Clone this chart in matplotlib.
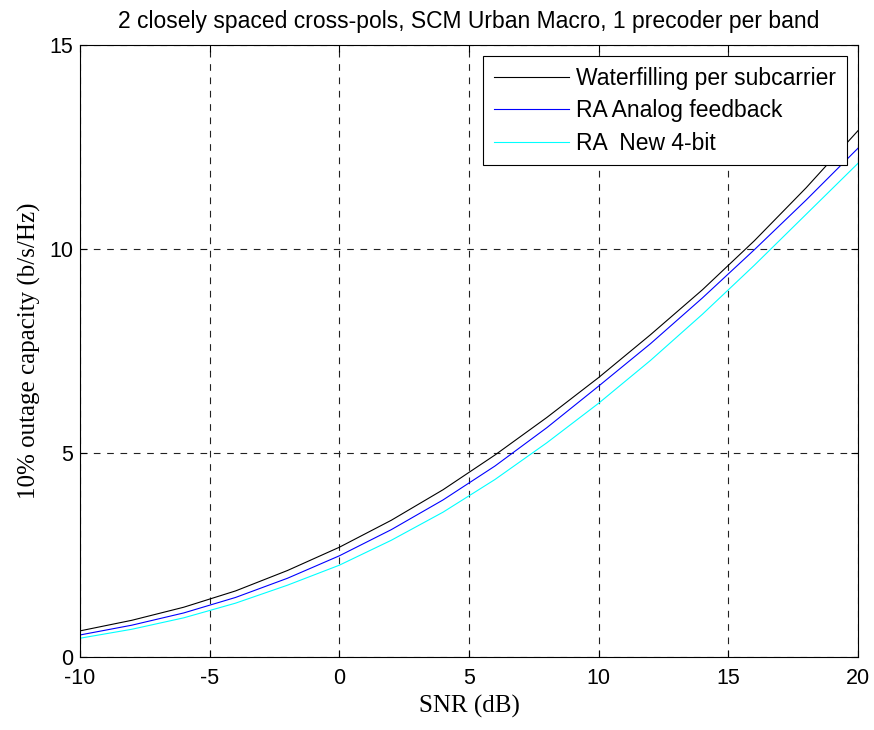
import matplotlib
matplotlib.use("Agg")
import matplotlib.pyplot as plt

snr = [-10, -8, -6, -4, -2, 0, 2, 4, 6, 8, 10, 12, 14, 16, 18, 20]
waterfilling = [0.64, 0.90, 1.22, 1.62, 2.12, 2.69, 3.35, 4.10, 4.95, 5.87, 6.85, 7.90, 9.00, 10.20, 11.50, 12.90]
analog = [0.54, 0.78, 1.08, 1.46, 1.93, 2.48, 3.12, 3.85, 4.68, 5.62, 6.64, 7.68, 8.80, 9.98, 11.20, 12.47]
new4bit = [0.46, 0.68, 0.96, 1.32, 1.76, 2.25, 2.86, 3.55, 4.35, 5.25, 6.22, 7.27, 8.40, 9.60, 10.85, 12.10]
labels = ["Waterfilling per subcarrier", "RA Analog feedback", "RA  New 4-bit"]
xticks = [-10, -5, 0, 5, 10, 15, 20]
yticks = [0, 5, 10, 15]

plt.rcParams['font.family'] = ['Liberation Sans', 'DejaVu Sans']
plt.rcParams['axes.unicode_minus'] = False
fig = plt.figure(figsize=(8.74, 7.3), dpi=100)
ax = fig.add_axes([80/874, 73/730, 778/874, 612/730])

ax.plot(snr, waterfilling, color='black', lw=0.8, label=labels[0])
ax.plot(snr, analog, color='#0000ff', lw=0.8, label=labels[1])
ax.plot(snr, new4bit, color='#00ffff', lw=0.8, label=labels[2])

ax.set_xlim(-10, 20)
ax.set_ylim(0, 15)
ax.set_xticks(xticks)
ax.set_yticks(yticks)
ax.tick_params(direction='in', top=True, right=True, labelsize=15.5, length=5)
ax.tick_params(axis='x', pad=8)
ax.tick_params(axis='y', pad=5)
ax.grid(True, color='#222222', linestyle=(0, (6, 6)), lw=0.8)
for s in ax.spines.values():
    s.set_linewidth(0.8)

ax.set_title("2 closely spaced cross-pols, SCM Urban Macro, 1 precoder per band", fontsize=16.5, pad=12)
ax.set_xlabel("SNR (dB)", family=['Liberation Serif'], fontsize=18, labelpad=4)
ax.set_ylabel("10% outage capacity (b/s/Hz)", family=['Liberation Serif'], fontsize=18, labelpad=6)

leg = ax.legend(loc='upper right', fontsize=16.5, frameon=True, fancybox=False,
                edgecolor='black', framealpha=1, borderaxespad=0.5,
                handlelength=3.3, handletextpad=0.3, labelspacing=0.42, borderpad=0.45)
leg.get_frame().set_linewidth(0.8)

fig.savefig("out.png", dpi=100)
